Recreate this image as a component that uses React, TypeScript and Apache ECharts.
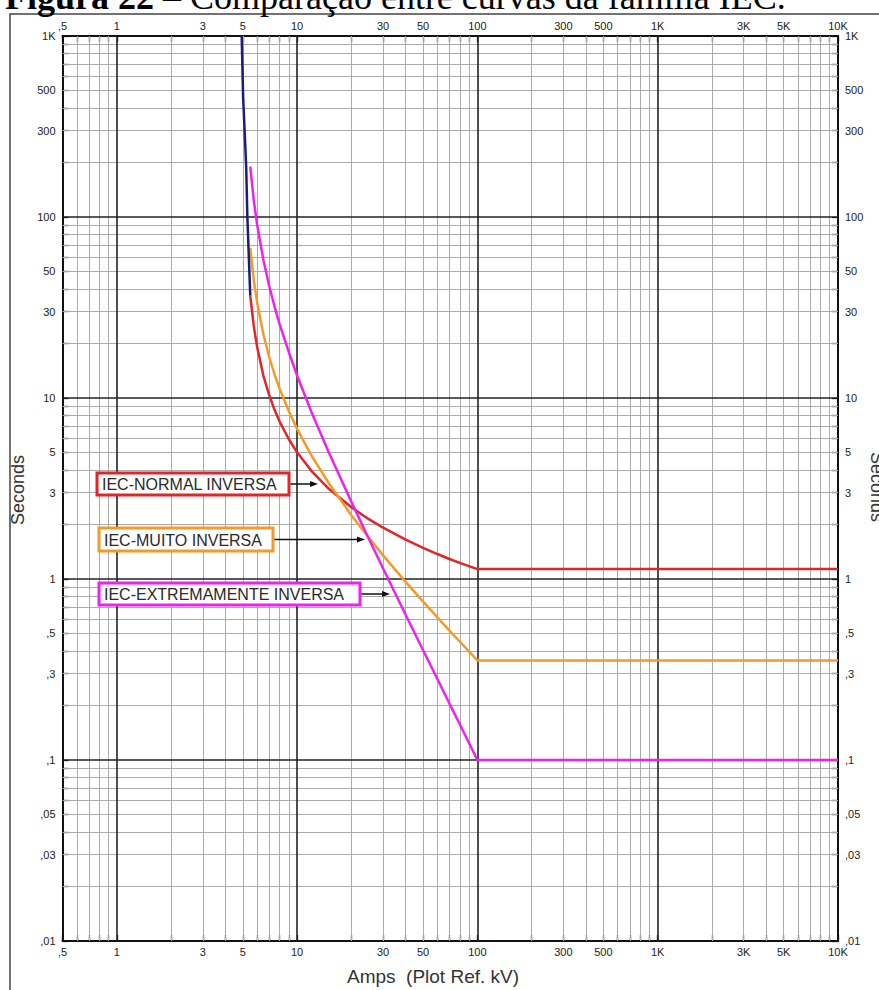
import React, { useEffect, useRef } from 'react';
import * as echarts from 'echarts';

// Axis tick labels
const xLabelValues = [0.5, 1, 3, 5, 10, 30, 50, 100, 300, 500, 1000, 3000, 5000, 10000];
const xLabelTexts = [',5', '1', '3', '5', '10', '30', '50', '100', '300', '500', '1K', '3K', '5K', '10K'];
const yLabelValues = [0.01, 0.03, 0.05, 0.1, 0.3, 0.5, 1, 3, 5, 10, 30, 50, 100, 300, 500, 1000];
const yLabelTexts = [',01', ',03', ',05', ',1', ',3', ',5', '1', '3', '5', '10', '30', '50', '100', '300', '500', '1K'];

// Grid lines
const xMajorLines = [1, 10, 100, 1000];
const yMajorLines = [0.1, 1, 10, 100];
const xMinorLines = [0.6, 0.7, 0.8, 0.9, 2, 3, 4, 5, 6, 7, 8, 9, 20, 30, 40, 50, 60, 70, 80, 90, 200, 300, 400, 500, 600, 700, 800, 900, 2000, 3000, 4000, 5000, 6000, 7000, 8000, 9000];
const yMinorLines = [0.02, 0.03, 0.04, 0.05, 0.06, 0.07, 0.08, 0.09, 0.2, 0.3, 0.4, 0.5, 0.6, 0.7, 0.8, 0.9, 2, 3, 4, 5, 6, 7, 8, 9, 20, 30, 40, 50, 60, 70, 80, 90, 200, 300, 400, 500, 600, 700, 800, 900];

// Curves (Amps, Seconds)
const currentAmps = [5.5, 5.75, 6, 6.5, 7, 7.5, 8, 9, 10, 12, 15, 20, 25, 30, 40, 50, 60, 70, 80, 100, 10000];
const normalInverseSec = [36.7, 25.0, 19.2, 13.3, 10.4, 8.6, 7.41, 5.92, 5.01, 3.96, 3.15, 2.49, 2.14, 1.92, 1.65, 1.485, 1.374, 1.29, 1.228, 1.134, 1.134];
const veryInverseSec = [67.5, 45, 33.8, 22.5, 16.9, 13.5, 11.25, 8.44, 6.75, 4.82, 3.38, 2.25, 1.69, 1.35, 0.964, 0.75, 0.614, 0.519, 0.45, 0.355, 0.355];
const extremelyInverseSec = [190, 124, 90.9, 58, 41.7, 32, 25.6, 17.9, 13.3, 8.4, 5.0, 2.67, 1.667, 1.143, 0.635, 0.404, 0.28, 0.205, 0.157, 0.1, 0.1];
const pickupAmps = [4.93, 5.02, 5.22, 5.3, 5.5];
const pickupSec = [1000, 460, 190, 100, 36.7];

const xTickValues = [0.5, ...xMinorLines, ...xMajorLines, 10000].sort((a, b) => a - b);
const yTickValues = [0.01, ...yMinorLines, ...yMajorLines, 1000].sort((a, b) => a - b);

const lookup = (vals: number[], texts: string[]) => (v: number) => {
  const i = vals.findIndex((a) => Math.abs(a - v) <= a * 1e-6);
  return i >= 0 ? texts[i] : '';
};

const labelFont = { fontSize: 11, color: '#222', fontFamily: 'Liberation Sans' };

function makeXAxis(position: 'top' | 'bottom') {
  return {
    type: 'log',
    logBase: 10,
    min: 0.5,
    max: 10000,
    position,
    axisLine: { show: true, onZero: false, lineStyle: { color: '#111', width: 2 } },
    axisTick: { show: true, inside: true, length: 6, customValues: xTickValues, lineStyle: { color: '#111', width: 1.3 } },
    axisLabel: { customValues: xLabelValues, formatter: lookup(xLabelValues, xLabelTexts), margin: 5, ...labelFont },
    splitLine: { show: false },
    minorTick: { show: false },
  };
}
function makeYAxis(position: 'left' | 'right') {
  return {
    type: 'log',
    logBase: 10,
    min: 0.01,
    max: 1000,
    position,
    axisLine: { show: true, onZero: false, lineStyle: { color: '#111', width: 2 } },
    axisTick: { show: true, inside: true, length: 6, customValues: yTickValues, lineStyle: { color: '#111', width: 1.3 } },
    axisLabel: { customValues: yLabelValues, formatter: lookup(yLabelValues, yLabelTexts), margin: 7, ...labelFont },
    splitLine: { show: false },
    minorTick: { show: false },
  };
}

const boxFont = { fontSize: 16, fontWeight: 'normal' as const, fontFamily: 'Liberation Sans', fill: '#2a2a2a' };

function labelBox(text: string, color: string, x: number, y: number, w: number, h: number, arrowTo: number) {
  const cy = y + h / 2;
  return [
    { type: 'rect', z: 100, shape: { x, y, width: w, height: h }, style: { fill: '#fff', stroke: color, lineWidth: 3 } },
    { type: 'text', z: 101, x: x + 5, y: cy + 0.5, style: { text, align: 'left', verticalAlign: 'middle', ...boxFont } },
    { type: 'line', z: 100, shape: { x1: x + w + 1.5, y1: cy, x2: arrowTo - 6, y2: cy }, style: { stroke: '#111', lineWidth: 1.5 } },
    { type: 'polygon', z: 100, shape: { points: [[arrowTo, cy], [arrowTo - 8, cy - 3], [arrowTo - 8, cy + 3]] }, style: { fill: '#111' } },
  ];
}

export default function App() {
  const ref = useRef<HTMLDivElement>(null);
  useEffect(() => {
    if (!ref.current) return;
    const chart = echarts.init(ref.current, undefined, { renderer: 'svg' });
    const gridSeries = (lines: { x: number[]; y: number[] }, color: string, width: number, z: number) => ({
      type: 'line',
      data: [[1, 1]],
      showSymbol: false,
      silent: true,
      z,
      lineStyle: { opacity: 0 },
      markLine: {
        silent: true,
        symbol: ['none', 'none'],
        label: { show: false },
        emphasis: { disabled: true },
        lineStyle: { color, width, type: 'solid' },
        data: [...lines.x.map((v) => ({ xAxis: v })), ...lines.y.map((v) => ({ yAxis: v }))],
      },
    });
    const curve = (name: string, xs: number[], ys: number[], color: string, z: number) => ({
      type: 'line',
      name,
      data: xs.map((a, i) => [a, ys[i]]),
      showSymbol: false,
      silent: true,
      z,
      lineStyle: { color, width: 2.5 },
      itemStyle: { color },
    });
    chart.setOption({
      animation: false,
      grid: { left: 62.5, right: 41, top: 36, bottom: 49 },
      xAxis: [makeXAxis('bottom'), makeXAxis('top')],
      yAxis: [makeYAxis('left'), makeYAxis('right')],
      series: [
        gridSeries({ x: xMinorLines, y: yMinorLines }, '#ababab', 1, 1),
        gridSeries({ x: xMajorLines, y: yMajorLines }, '#222', 1.6, 2),
        curve('IEC-NORMAL INVERSA', currentAmps, normalInverseSec, '#e0262b', 10),
        curve('IEC-MUITO INVERSA', currentAmps, veryInverseSec, '#f39b26', 11),
        curve('IEC-EXTREMAMENTE INVERSA', currentAmps, extremelyInverseSec, '#ee22ee', 12),
        curve('Pickup', pickupAmps, pickupSec, '#1c1c7a', 13),
      ],
      graphic: [
        { type: 'rect', z: -10, shape: { x: 10, y: 14, width: 900, height: 1000 }, style: { fill: 'none', stroke: '#444', lineWidth: 1.5 } },
        {
          type: 'text', x: 5, y: -3,
          style: {
            text: '{b|Figura 22} – Comparação entre curvas da família IEC.',
            verticalAlign: 'middle', align: 'left',
            fontSize: 36, fontFamily: 'Liberation Serif', fill: '#000',
            rich: { b: { fontWeight: 'bold', fontSize: 36, fontFamily: 'Liberation Serif' } },
          },
        },
        { type: 'text', x: 18, y: 490, rotation: Math.PI / 2, style: { text: 'Seconds', align: 'center', verticalAlign: 'middle', fontSize: 18, fontFamily: 'Liberation Sans', fill: '#333' } },
        { type: 'text', x: 877, y: 487, rotation: -Math.PI / 2, style: { text: 'Seconds', align: 'center', verticalAlign: 'middle', fontSize: 18, fontFamily: 'Liberation Sans', fill: '#333' } },
        { type: 'text', x: 433, y: 976, style: { text: 'Amps  (Plot Ref. kV)', align: 'center', verticalAlign: 'middle', fontSize: 19, fontFamily: 'Liberation Sans', fill: '#333' } },
        ...labelBox('IEC-NORMAL INVERSA', '#e0262b', 97, 473, 192, 22, 318),
        ...labelBox('IEC-MUITO INVERSA', '#f39b26', 99, 528, 174, 23, 365),
        ...labelBox('IEC-EXTREMAMENTE INVERSA', '#ee22ee', 99, 583, 261, 22, 390),
      ],
    });
    return () => chart.dispose();
  }, []);
  return <div ref={ref} style={{ position: 'absolute', left: 0, top: 0, width: 879, height: 990 }} />;
}
